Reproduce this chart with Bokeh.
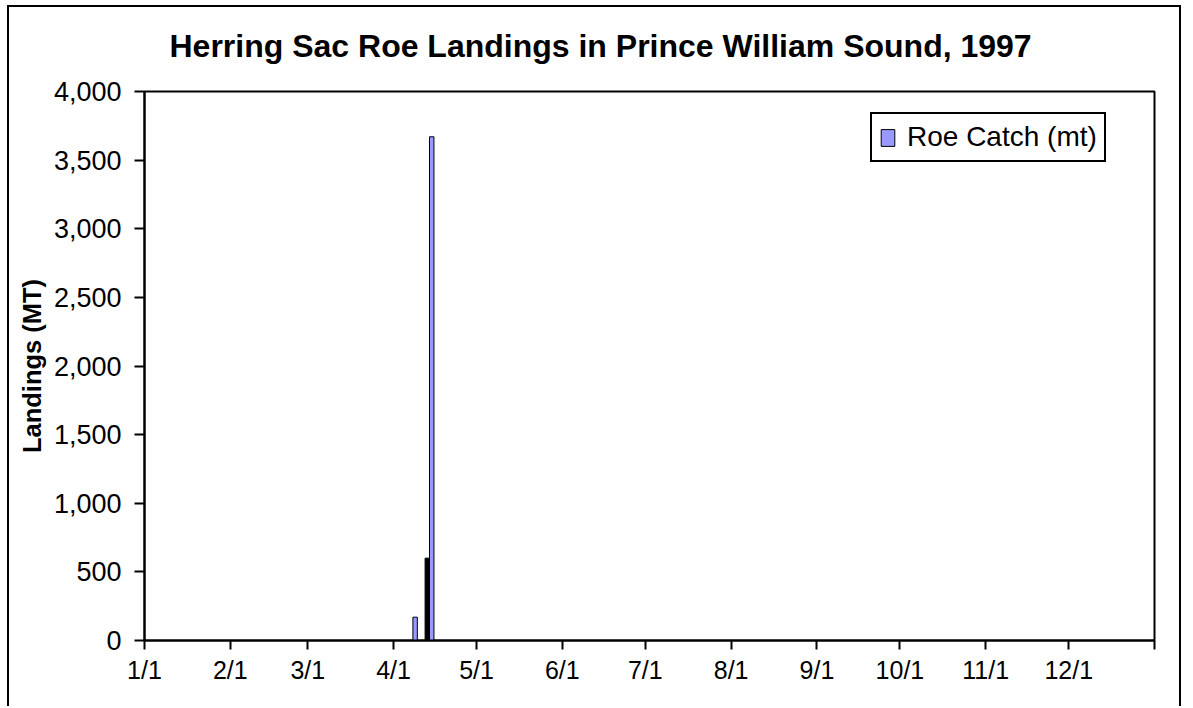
import pandas as pd
from bokeh.plotting import figure
from bokeh.models import FixedTicker, NumeralTickFormatter, ColumnDataSource, Title
from bokeh.transform import dodge
from bokeh.embed import file_html
from bokeh.resources import INLINE

# ---- data ----
title_text = "Herring Sac Roe Landings in Prince William Sound, 1997"
roe_dates = ["1997-04-08", "1997-04-14"]
roe_catch = [170, 3670]
other_dates = ["1997-04-14"]
other_catch = [600]
month_ticks = ["1997-01-01", "1997-02-01", "1997-03-01", "1997-04-01", "1997-05-01",
               "1997-06-01", "1997-07-01", "1997-08-01", "1997-09-01", "1997-10-01",
               "1997-11-01", "1997-12-01", "1998-01-01"]
month_labels = ["1/1", "2/1", "3/1", "4/1", "5/1", "6/1", "7/1", "8/1", "9/1",
                "10/1", "11/1", "12/1", ""]
y_ticks = [0, 500, 1000, 1500, 2000, 2500, 3000, 3500, 4000]

start = pd.Timestamp("1997-01-01")
def to_day(ds):
    return [int((pd.Timestamp(d) - start).days) for d in ds]

roe_src = ColumnDataSource(dict(day=to_day(roe_dates), v=roe_catch))
oth_src = ColumnDataSource(dict(day=to_day(other_dates), v=other_catch))
tick_days = to_day(month_ticks)

FONT = "Liberation Sans"

p = figure(width=1174, height=701, output_backend="svg", toolbar_location=None,
           x_range=(0, 365), y_range=(0, 4000), title=None,
           min_border_left=135, min_border_right=29, min_border_top=84, min_border_bottom=68)
p.styles = {"margin-left": "7px", "margin-top": "5px",
            "border-top": "2px solid black", "border-left": "2px solid black",
            "border-right": "2px solid black"}

# spacer between frame and chart title, then the title itself
p.add_layout(Title(text=" ", text_font=FONT, text_font_size="23px", standoff=0), "above")
p.add_layout(Title(text=title_text, text_font=FONT, text_font_size="32px",
                   text_font_style="bold", text_color="black", align="left",
                   offset=25, standoff=0), "above")

p.xgrid.visible = False
p.ygrid.visible = False
p.outline_line_color = "black"
p.outline_line_width = 2
p.outline_line_alpha = 1

bw = 1.6
p.vbar(x=dodge("day", -0.8, range=p.x_range), top="v", width=bw, source=oth_src,
       fill_color="black", line_color="black", line_width=1)
p.vbar(x=dodge("day", 0.8, range=p.x_range), top="v", width=bw, source=roe_src,
       fill_color="#9999FF", line_color="black", line_width=1, legend_label="Roe Catch (mt)")

for ax in (p.xaxis[0], p.yaxis[0]):
    ax.axis_line_color = "black"
    ax.axis_line_width = 2
    ax.major_tick_line_color = "black"
    ax.major_tick_line_width = 2
    ax.major_tick_in = 0
    ax.minor_tick_line_color = None
    ax.major_label_text_font = FONT
    ax.major_label_text_color = "black"

xa = p.xaxis[0]
xa.ticker = FixedTicker(ticks=tick_days)
xa.major_label_overrides = {d: l for d, l in zip(tick_days, month_labels)}
xa.major_tick_out = 9
xa.major_label_standoff = 6
xa.major_label_text_font_size = "25px"

ya = p.yaxis[0]
ya.ticker = FixedTicker(ticks=y_ticks)
ya.formatter = NumeralTickFormatter(format="0,0")
ya.major_tick_out = 10
ya.major_label_standoff = 13
ya.major_label_text_font_size = "27px"
ya.axis_label = "Landings (MT)"
ya.axis_label_text_font = FONT
ya.axis_label_text_font_size = "25.5px"
ya.axis_label_text_font_style = "bold"
ya.axis_label_text_color = "black"
ya.axis_label_standoff = 5

lg = p.legend[0]
lg.location = (726, 478)
lg.border_line_color = "black"
lg.border_line_width = 2
lg.border_line_alpha = 1
lg.padding = 7
lg.margin = 0
lg.label_standoff = 11
lg.glyph_width = 17
lg.glyph_height = 21
lg.label_text_font = FONT
lg.label_text_font_size = "28px"
lg.label_text_color = "black"
lg.background_fill_alpha = 1

open("out.html", "w").write(file_html(p, INLINE))
